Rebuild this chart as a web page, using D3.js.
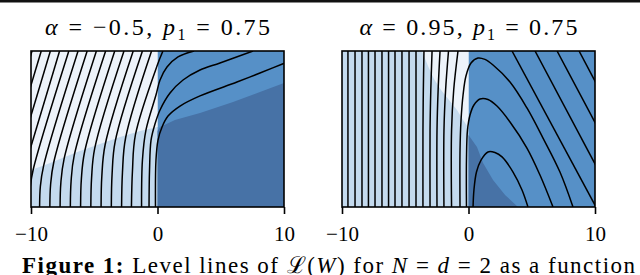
<!DOCTYPE html>
<html>
<head>
<meta charset="utf-8">
<script src="https://cdn.jsdelivr.net/npm/d3@7"></script>
<style>
  body { margin: 0; background: #fff; }
  svg { display: block; }
  text { white-space: pre; }
</style>
</head>
<body>
<svg id="chart" width="640" height="275"></svg>
<script>
// x axis of both panels
const xDomain = [-10, 10];
const yDomain = [0, 10];
const xTicks = [-10, 0, 10];

// titles: [text, style]
const leftTitle = [["α", "i"], [" = −0.5, ", ""], ["p", "i"], ["1", "sub"], [" = 0.75", ""]];
const rightTitle = [["α", "i"], [" = 0.95, ", ""], ["p", "i"], ["1", "sub"], [" = 0.75", ""]];

// filled levels, left panel (alpha = -0.5)
const leftWhite = [[-10, 10], [0, 10], [0, 5.13], [-1.38, 4.87], [-2.96, 4.49], [-4.55, 4.04],
  [-6.13, 3.59], [-7.71, 3.08], [-8.89, 2.69], [-10, 2.37]];
const leftDark = [[0, 0], [0, 4.87], [0.2, 5.13], [1.38, 5.58], [3.36, 6.03], [5.97, 6.73],
  [8.1, 7.37], [10, 7.95], [10, 0]];

// level lines, left panel
const leftLines = [
  [[-9.92, 10], [-10.47, 8.53]],
  [[-9.19, 10], [-10.47, 6.54]],
  [[-8.47, 10], [-10.48, 4.55]],
  [[-7.74, 10], [-10.44, 2.69]],
  [[-7.01, 10], [-9.82, 2.42], [-10.07, 1.22], [-10.13, 0]],
  [[-6.28, 10], [-9.00, 2.65], [-9.26, 1.32], [-9.32, 0]],
  [[-5.56, 10], [-8.20, 2.87], [-8.45, 1.44], [-8.51, 0]],
  [[-4.83, 10], [-7.38, 3.10], [-7.64, 1.55], [-7.70, 0]],
  [[-4.10, 10], [-6.58, 3.32], [-6.83, 1.66], [-6.89, 0]],
  [[-3.38, 10], [-5.76, 3.54], [-6.02, 1.77], [-6.08, 0]],
  [[-2.65, 10], [-4.96, 3.77], [-5.21, 1.88], [-5.27, 0]],
  [[-1.92, 10], [-4.14, 3.99], [-4.40, 1.99], [-4.46, 0]],
  [[-1.19, 10], [-3.34, 4.22], [-3.59, 2.11], [-3.65, 0]],
  [[-0.47, 10], [-2.52, 4.44], [-2.77, 2.22], [-2.84, 0]],
  [[0.43, 10], [-0.04, 9.04], [-1.74, 4.65], [-1.98, 2.31], [-2.06, 0]],
  [[2.89, 10], [1.62, 9.62], [0.75, 8.97], [0.20, 8.14], [-0.12, 7.18], [-0.91, 4.94], [-1.19, 3.01], [-1.26, 0]],
  [[7.55, 10], [4.94, 9.23], [3.36, 8.78], [2.02, 8.14], [0.99, 7.31], [0.20, 6.22], [-0.20, 5.32],
    [-0.51, 4.29], [-0.63, 2.37], [-0.67, 0]],
  [[10.47, 9.36], [8.10, 8.59], [6.28, 8.01], [3.36, 7.12], [1.78, 6.47], [0.83, 5.83], [0.36, 5.13],
    [0.04, 4.29], [-0.12, 3.01], [-0.16, 0]]
];

// filled levels, right panel (alpha = 0.95)
const rightWhite = [[-3.68, 10], [-3.20, 9.04], [-2.73, 8.21], [-2.17, 7.5], [-1.54, 6.86], [-0.91, 6.22],
  [-0.43, 5.58], [0, 5.06], [0, 10]];
const rightDark = [[0, 0], [0, 4.62], [0.67, 3.85], [1.15, 2.82], [1.94, 1.73], [2.89, 0.77], [3.91, 0]];

// level lines, right panel
const rightLines = [
  [[-9.53, 0], [-9.53, 10]],
  [[-8.97, 0], [-8.97, 10]],
  [[-8.42, 0], [-8.42, 10]],
  [[-7.91, 0], [-7.91, 10]],
  [[-7.39, 0], [-7.39, 10]],
  [[-6.84, 0], [-6.84, 10]],
  [[-6.32, 0], [-6.32, 10]],
  [[-5.81, 0], [-5.81, 10]],
  [[-5.26, 0], [-5.26, 10]],
  [[-4.70, 0], [-4.70, 10]],
  [[-4.15, 0], [-4.15, 10]],
  [[-3.60, 0], [-3.60, 4.9], [-3.57, 7.5], [-3.52, 10]],
  [[-3.04, 0], [-3.04, 4.9], [-2.98, 7.5], [-2.88, 10]],
  [[-2.49, 0], [-2.49, 4.9], [-2.40, 7.5], [-2.25, 10]],
  [[-1.94, 0], [-1.94, 4.9], [-1.81, 7.5], [-1.58, 10]],
  [[-1.34, 0], [-1.34, 4.9], [-1.17, 7.5], [-0.83, 10]],
  [[-0.67, 0], [-0.67, 3.65], [-0.59, 5.58], [-0.43, 7.18], [-0.20, 8.40], [0.20, 9.23], [0.75, 9.55],
    [1.30, 9.46], [1.94, 9.10], [3.28, 8.01], [4.62, 6.35], [5.89, 4.42], [7.23, 2.24], [8.26, 0]],
  [[-0.16, 0], [-0.16, 3.01], [-0.08, 4.94], [0.12, 5.90], [0.43, 6.54], [0.91, 6.92], [1.54, 6.89],
    [2.25, 6.47], [3.28, 5.45], [4.62, 3.78], [5.65, 2.05], [6.68, 0]],
  [[0.36, 0], [0.43, 1.09], [0.63, 2.24], [0.99, 3.01], [1.54, 3.53], [2.09, 3.49], [2.65, 3.21],
    [3.52, 2.24], [4.23, 1.09], [4.70, 0]],
  [[3.44, 10], [10.08, 0]],
  [[5.26, 10], [10.40, 2.15]],
  [[7.0, 10], [10.40, 4.81]],
  [[8.74, 10], [10.40, 7.46]]
];

// caption: [text, style]
const caption = [["Figure 1:", "b"], [" Level lines of ", ""], ["ℒ", ""], ["(", ""], ["W", "i"], [")", ""],
  [" for ", ""], ["N", "i"], [" = ", ""], ["d", "i"], [" = 2 as a function", ""]];

const colWhite = "#edf3fa";
const colLight = "#c4daee";
const colMedium = "#5690c7";
const colDark = "#4772a6";
const serif = "'Liberation Serif', 'DejaVu Serif', serif";

const svg = d3.select("#chart");
svg.append("rect").attr("width", 640).attr("height", 275).attr("fill", "#fff");
svg.append("rect").attr("x", 0).attr("y", 0).attr("width", 640).attr("height", 2.5).attr("fill", "#111");

function addRuns(text, parts, subSize) {
  let shifted = false;
  parts.forEach(([str, style]) => {
    const ts = text.append("tspan").text(str);
    if (style === "i") ts.attr("font-style", "italic");
    if (style === "b") ts.attr("font-weight", "bold");
    if (style === "sub") {
      ts.attr("font-size", subSize).attr("dy", 5);
      shifted = true;
    } else if (shifted) {
      ts.attr("dy", -5);
      shifted = false;
    }
  });
}

function drawPanel(id, left, right, titleParts, titleWidth, whiteArea, darkArea, levelLines) {
  const top = 51, bottom = 207;
  const x = d3.scaleLinear().domain(xDomain).range([left, right]);
  const y = d3.scaleLinear().domain(yDomain).range([bottom, top]);

  const g = svg.append("g");
  g.append("clipPath").attr("id", id)
    .append("rect")
    .attr("x", left).attr("y", top)
    .attr("width", right - left).attr("height", bottom - top);

  const plot = g.append("g").attr("clip-path", `url(#${id})`);

  plot.append("rect")
    .attr("x", x(-10)).attr("y", y(10))
    .attr("width", x(0) - x(-10)).attr("height", y(0) - y(10))
    .attr("fill", colLight);
  plot.append("rect")
    .attr("x", x(0)).attr("y", y(10))
    .attr("width", x(10) - x(0)).attr("height", y(0) - y(10))
    .attr("fill", colMedium);

  const poly = d3.line().x(d => x(d[0])).y(d => y(d[1]));
  plot.append("path").attr("d", poly(whiteArea) + "Z").attr("fill", colWhite);
  plot.append("path").attr("d", poly(darkArea) + "Z").attr("fill", colDark);

  const level = d3.line()
    .x(d => x(d[0]))
    .y(d => y(d[1]))
    .curve(d3.curveCatmullRom.alpha(0.5));

  plot.selectAll("path.level")
    .data(levelLines)
    .enter()
    .append("path")
    .attr("class", "level")
    .attr("d", level)
    .attr("fill", "none")
    .attr("stroke", "#000")
    .attr("stroke-width", 1.5);

  g.append("rect")
    .attr("x", left).attr("y", top)
    .attr("width", right - left).attr("height", bottom - top)
    .attr("fill", "none")
    .attr("stroke", "#000")
    .attr("stroke-width", 1.6);

  const ax = g.append("g")
    .attr("transform", `translate(0,${bottom})`)
    .call(d3.axisBottom(x)
      .tickValues(xTicks)
      .tickSize(7)
      .tickFormat(d => d < 0 ? "−" + Math.abs(d) : String(d)));
  ax.select(".domain").remove();
  ax.selectAll("line").attr("stroke", "#000").attr("stroke-width", 1.6);
  ax.selectAll("text")
    .attr("y", 19)
    .attr("fill", "#000")
    .style("font-family", serif)
    .style("font-size", "21px");

  const title = g.append("text")
    .attr("x", (left + right) / 2)
    .attr("y", 35)
    .attr("text-anchor", "middle")
    .attr("textLength", titleWidth)
    .attr("lengthAdjust", "spacing")
    .style("font-family", serif)
    .style("font-size", "24px");
  addRuns(title, titleParts, 16);
}

drawPanel("clipL", 31, 284, leftTitle, 225, leftWhite, leftDark, leftLines);
drawPanel("clipR", 342, 595, rightTitle, 218, rightWhite, rightDark, rightLines);

const cap = svg.append("text")
  .attr("x", 22)
  .attr("y", 273)
  .attr("textLength", 613)
  .attr("lengthAdjust", "spacing")
  .style("font-family", serif)
  .style("font-size", "23px");
addRuns(cap, caption, 16);
</script>
</body>
</html>
